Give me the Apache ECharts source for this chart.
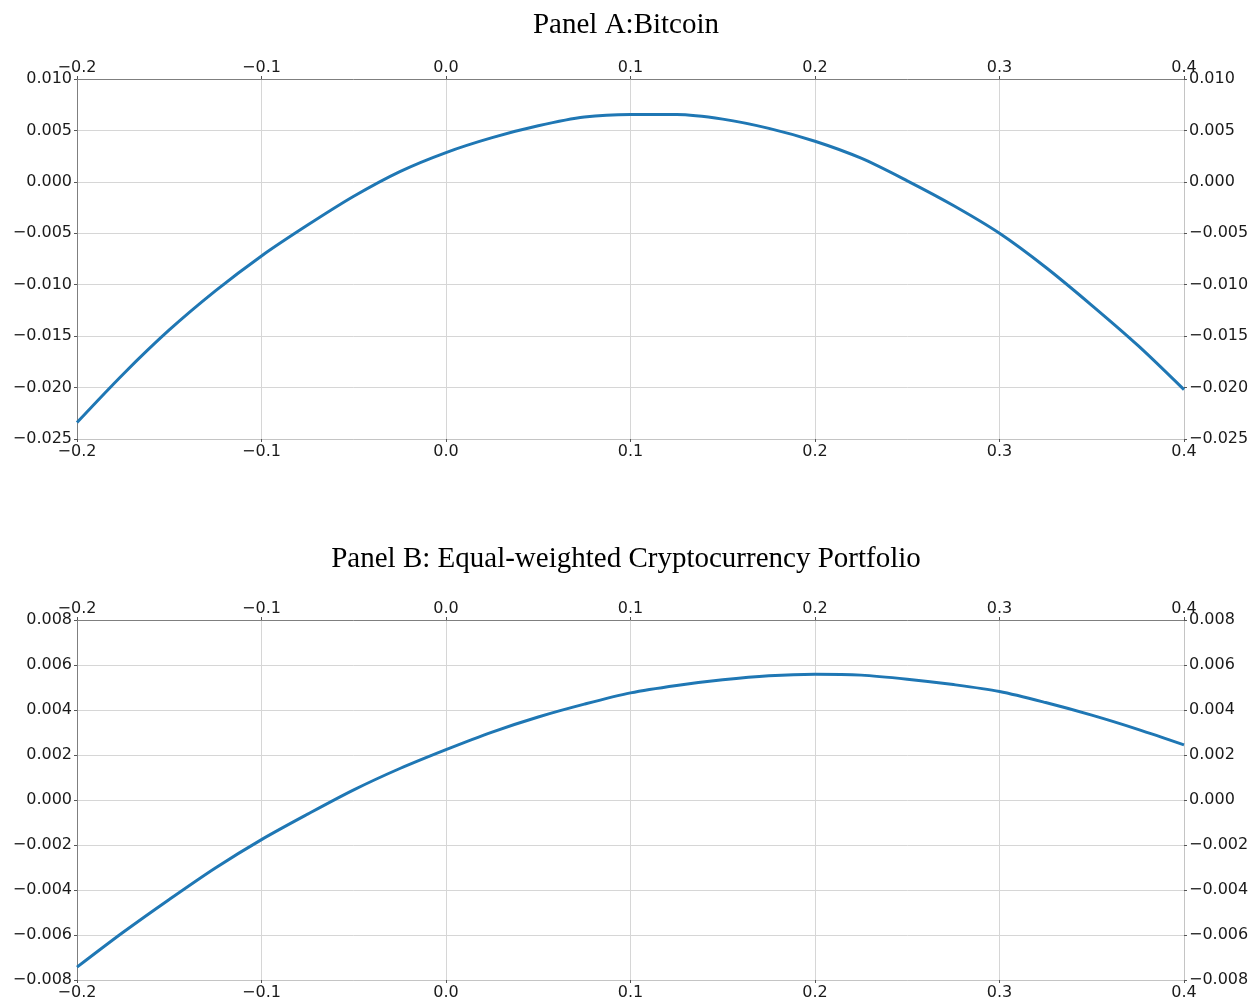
<!DOCTYPE html>
<html>
<head>
<meta charset="utf-8">
<title>Panel A / Panel B</title>
<script src="https://cdn.jsdelivr.net/npm/echarts@6/dist/echarts.min.js"></script>
<style>
  html, body { margin: 0; padding: 0; background: #fff; }
  #chart { width: 1252px; height: 1001px; }
</style>
</head>
<body>
<div id="chart"></div>
<script>
// Horizontal positions at which both curves are sampled
const xs = [-0.2, -0.175, -0.15, -0.125, -0.1, -0.075, -0.05, -0.025, 0.0,
            0.025, 0.05, 0.075, 0.1, 0.125, 0.15, 0.175, 0.2, 0.225, 0.25,
            0.275, 0.3, 0.325, 0.35, 0.375, 0.4];

// Panel A: Bitcoin
const bitcoin = [-0.0234, -0.0187, -0.0144, -0.0106, -0.0072, -0.0042, -0.0014, 0.0010, 0.00285,
                 0.0043, 0.00545, 0.0063, 0.00655, 0.00655, 0.0061, 0.0052, 0.00395, 0.0023, 0.0001,
                 -0.0023, -0.005, -0.0083, -0.0120, -0.0159, -0.0202];

// Panel B: Equal-weighted cryptocurrency portfolio
const portfolio = [-0.00743, -0.00588, -0.00442, -0.00302, -0.00176, -0.00063, 0.00045, 0.0014, 0.00224,
                   0.00302, 0.00369, 0.00426, 0.00476, 0.00509, 0.00534, 0.00552, 0.00559, 0.00555, 0.00537,
                   0.00513, 0.00482, 0.00433, 0.00377, 0.00314, 0.00245];

// Axis settings per panel
const xTicks = { min: -0.2, max: 0.4, interval: 0.1 };
const yTicksA = { min: -0.025, max: 0.010, interval: 0.005 };
const yTicksB = { min: -0.008, max: 0.008, interval: 0.002 };

const titles = ['Panel A:Bitcoin', 'Panel B: Equal-weighted Cryptocurrency Portfolio'];

const MINUS = '\u2212';
function fmt(v, digits) {
  const r = Math.round(v * Math.pow(10, digits)) / Math.pow(10, digits);
  const s = Math.abs(r).toFixed(digits);
  return (r < 0 ? MINUS : '') + s;
}

const labelFont = { fontFamily: 'DejaVu Sans', fontSize: 16, color: '#1a1a1a' };
const dark = '#7f7f7f';
const light = '#c4c4c4';
const gridColor = '#d6d6d6';

function xAxisDef(gridIndex, position, lineColor, withGrid) {
  return {
    type: 'value', gridIndex, position,
    min: xTicks.min, max: xTicks.max, interval: xTicks.interval,
    axisLine: { show: true, onZero: false, lineStyle: { color: lineColor, width: 1 } },
    axisTick: { show: true, length: 3, lineStyle: { color: '#555' } },
    axisLabel: Object.assign({ margin: position === 'top' ? 3 : 5,
      showMinLabel: true, showMaxLabel: true,
      formatter: v => fmt(v, 1) }, labelFont),
    splitLine: { show: withGrid, lineStyle: { color: gridColor, width: 1 } }
  };
}

function yAxisDef(gridIndex, position, lineColor, ticks, withGrid) {
  return {
    type: 'value', gridIndex, position,
    min: ticks.min, max: ticks.max, interval: ticks.interval,
    axisLine: { show: true, onZero: false, lineStyle: { color: lineColor, width: 1 } },
    axisTick: { show: true, length: 3, lineStyle: { color: '#555' } },
    axisLabel: Object.assign({ margin: 5, showMinLabel: true, showMaxLabel: true,
      formatter: v => fmt(v, 3) }, labelFont),
    splitLine: { show: withGrid, lineStyle: { color: gridColor, width: 1 } }
  };
}

function pairs(values) {
  return xs.map((x, i) => [x, values[i]]);
}

const chart = echarts.init(document.getElementById('chart'), null, { renderer: 'canvas' });

const titleStyle = { fontFamily: 'Liberation Serif', fontSize: 29, fontWeight: 'normal', color: '#000' };

chart.setOption({
  backgroundColor: '#ffffff',
  animation: false,
  title: [
    { text: titles[0], left: 'center', top: 6, textStyle: titleStyle },
    { text: titles[1], left: 'center', top: 540, textStyle: titleStyle }
  ],
  grid: [
    { left: 77, top: 79, width: 1107, height: 360 },
    { left: 77, top: 620, width: 1107, height: 361 }
  ],
  xAxis: [
    xAxisDef(0, 'bottom', light, true),
    xAxisDef(0, 'top', dark, false),
    xAxisDef(1, 'bottom', light, true),
    xAxisDef(1, 'top', dark, false)
  ],
  yAxis: [
    yAxisDef(0, 'left', dark, yTicksA, true),
    yAxisDef(0, 'right', light, yTicksA, false),
    yAxisDef(1, 'left', dark, yTicksB, true),
    yAxisDef(1, 'right', light, yTicksB, false)
  ],
  series: [
    { type: 'line', xAxisIndex: 0, yAxisIndex: 0, data: pairs(bitcoin),
      symbol: 'none', smooth: 0.3, lineStyle: { color: '#1f77b4', width: 3 } },
    { type: 'line', xAxisIndex: 2, yAxisIndex: 2, data: pairs(portfolio),
      symbol: 'none', smooth: 0.3, lineStyle: { color: '#1f77b4', width: 3 } }
  ]
});
</script>
</body>
</html>
